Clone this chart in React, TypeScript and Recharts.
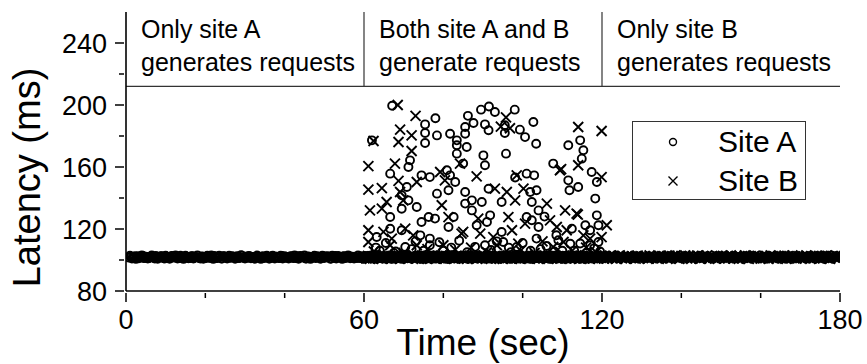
import React from "react";
import {
    ScatterChart, Scatter, XAxis, YAxis, ReferenceLine, ReferenceArea, Legend, Label,
} from "recharts";

const FONT = "Arial, 'Liberation Sans', Helvetica, sans-serif";

// axes
const timeTicks = [0, 20, 40, 60, 80, 100, 120, 140, 160, 180];
const timeLabels = [0, 60, 120, 180];
const latencyTicks = [80, 100, 120, 140, 160, 180, 200, 220, 240];
const latencyLabels = [80, 120, 160, 200, 240];

// phases shown in the top strip
const phaseStart = [0, 60, 120];
const phaseEnd = [60, 120, 180];
const phaseText = [
    ["Only site A", "generates requests"],
    ["Both site A and B", "generate requests"],
    ["Only site B", "generates requests"],
];
const phaseFloor = 212;

const seriesNames = ["Site A", "Site B"];

// steady latency (ms), one sample every 0.5 s
const steadyA = [
    101.6, 102.1, 101.3, 102.4, 101.8, 101.1, 102.0, 102.6, 101.5, 101.9, 101.2, 102.3, 101.7, 100.9, 102.2, 101.4, 102.5, 101.8, 101.0, 102.1,
    101.9, 101.3, 102.4, 101.6, 102.0, 101.2, 102.7, 101.5, 101.8, 102.2, 101.1, 101.7, 102.4, 101.4, 102.0, 101.6, 100.9, 102.3, 101.8, 101.3,
    102.2, 101.5, 101.9, 102.6, 101.3, 101.8, 102.1, 101.0, 102.4, 101.7, 102.0, 101.4, 102.5, 101.9, 101.2, 102.2, 101.6, 102.8, 101.3, 101.9,
    101.4, 102.3, 101.7, 101.1, 102.0, 102.5, 101.6, 101.9, 101.2, 102.2, 101.8, 101.0, 102.4, 101.5, 102.1, 101.7, 101.3, 102.6, 101.9, 101.4,
    102.0, 101.6, 102.3, 101.2, 101.8, 102.5, 101.4, 102.1, 101.7, 100.9, 102.2, 101.5, 102.0, 101.8, 101.3, 102.4, 101.6, 101.1, 102.3, 101.9,
    101.7, 102.2, 101.0, 101.9, 102.6, 101.4, 102.0, 101.6, 102.3, 101.2, 101.8, 102.5, 101.5, 101.9, 102.1, 101.3, 101.7, 102.4, 101.0, 102.2,
    101.8, 101.3, 102.1, 102.7, 101.5, 101.9, 101.2, 102.3, 101.6, 102.0, 101.4, 102.5, 101.8, 101.1, 102.2, 101.7, 102.4, 101.3, 101.9, 102.0,
    101.5, 102.4, 101.8, 101.2, 102.1, 101.6, 102.6, 101.0, 101.9, 102.3, 101.4, 101.8, 102.2, 101.5, 102.7, 101.3, 101.9, 102.0, 101.6, 102.4,
    102.1, 101.4, 101.8, 102.5, 101.2, 102.0, 101.7, 102.3, 101.0, 101.9, 102.6, 101.5, 102.1, 101.3, 101.8, 102.4, 101.6, 102.0, 101.2, 101.9,
    101.6, 102.2, 101.3, 101.9, 102.5, 101.7, 101.1, 102.3, 101.8, 102.0, 101.4, 102.6, 101.6, 101.2, 102.1, 101.9, 101.5, 102.4, 101.7, 101.3,
    102.3, 101.7, 101.0, 102.1, 101.6, 102.4, 101.9, 101.3, 102.2, 101.5, 102.7, 101.8, 101.2, 102.0, 101.6, 102.3, 101.4, 101.9, 102.5, 101.1,
    101.8, 102.0, 101.5, 102.4, 101.2, 101.9, 102.2, 101.6, 102.6, 101.3, 101.8, 102.1, 101.0, 102.3, 101.7, 101.4, 102.5, 101.9, 101.6, 102.0,
];
// requests falling between the samples above
const steadyAMid = [
    102.8, 101.0, 101.9, 100.7, 102.5, 101.6, 103.0, 101.2, 102.2, 100.9, 101.8, 102.9, 101.4, 102.6, 100.8, 101.9, 102.4, 101.1, 102.7, 101.5,
    100.8, 102.6, 101.7, 102.9, 101.0, 102.3, 101.4, 100.7, 102.8, 101.9, 101.2, 102.5, 100.9, 101.7, 103.0, 101.3, 102.1, 100.8, 101.8, 102.7,
    101.5, 102.9, 100.7, 102.2, 101.3, 102.7, 101.0, 102.4, 101.8, 100.9, 102.8, 101.6, 102.1, 100.8, 102.5, 101.2, 103.1, 101.7, 100.9, 102.3,
    102.6, 101.1, 102.0, 100.8, 102.9, 101.5, 100.7, 102.4, 101.9, 102.8, 101.0, 101.6, 102.7, 100.9, 102.2, 101.3, 102.8, 101.0, 102.4, 101.7,
    100.9, 102.4, 101.6, 103.0, 101.2, 100.8, 102.6, 101.8, 102.9, 101.0, 102.3, 100.7, 101.9, 102.8, 101.4, 102.0, 100.8, 102.7, 101.3, 102.5,
    102.3, 100.8, 102.8, 101.5, 101.0, 102.6, 101.9, 100.7, 102.4, 101.7, 103.0, 101.1, 102.2, 100.9, 101.6, 102.9, 101.2, 102.0, 100.8, 102.6,
    101.2, 102.7, 101.0, 102.2, 100.8, 102.9, 101.6, 102.4, 100.9, 101.8, 102.6, 101.3, 100.7, 102.8, 101.9, 101.1, 102.5, 100.8, 102.9, 101.4,
    102.9, 101.3, 100.8, 102.5, 101.7, 102.2, 100.9, 102.8, 101.4, 100.7, 102.4, 101.9, 102.7, 101.0, 101.6, 102.9, 100.8, 102.3, 101.2, 102.6,
    100.7, 102.2, 102.9, 101.1, 102.6, 100.9, 101.8, 102.7, 101.3, 102.4, 100.8, 101.6, 102.9, 101.0, 102.3, 100.9, 102.7, 101.5, 102.1, 100.8,
    102.5, 101.0, 101.8, 102.8, 100.9, 102.3, 101.4, 100.8, 102.6, 101.9, 101.1, 102.9, 100.7, 102.2, 101.6, 102.8, 101.0, 100.9, 102.5, 101.7,
    101.0, 102.8, 101.5, 100.8, 102.4, 101.2, 102.9, 101.7, 100.9, 102.6, 101.3, 102.0, 100.7, 102.7, 101.8, 101.0, 102.9, 101.4, 100.8, 102.3,
    102.7, 101.4, 100.8, 102.2, 101.9, 102.9, 101.1, 100.7, 102.5, 101.6, 102.8, 101.0, 102.3, 100.9, 101.7, 102.6, 101.2, 102.9, 100.8, 101.9,
];
const steadyB = [
    101.9, 101.4, 102.2, 101.7, 101.1, 102.5, 101.8, 102.0, 101.3, 102.3, 101.6, 101.9, 102.6, 101.2, 101.8, 102.1, 101.5, 102.4, 101.0, 101.9,
    102.2, 101.6, 101.3, 102.0, 102.5, 101.7, 101.2, 102.3, 101.9, 101.5, 102.1, 101.0, 102.4, 101.8, 101.4, 102.6, 101.7, 102.0, 101.3, 102.2,
    101.5, 102.1, 101.8, 101.2, 102.4, 101.9, 102.7, 101.4, 101.8, 102.0, 101.1, 102.3, 101.6, 101.9, 102.5, 101.3, 102.0, 101.7, 102.2, 101.5,
    102.0, 101.3, 102.4, 101.8, 101.6, 102.2, 101.0, 101.9, 102.6, 101.4, 102.1, 101.7, 101.2, 102.3, 101.8, 102.5, 101.5, 101.9, 101.3, 102.1,
    101.7, 102.3, 101.1, 101.9, 102.2, 101.6, 102.5, 101.4, 102.0, 101.8, 101.3, 102.4, 101.9, 101.5, 102.6, 101.2, 101.8, 102.1, 101.6, 102.3,
    101.4, 101.9, 102.5, 101.7, 101.2, 102.0, 101.8, 102.4, 101.0, 102.2, 101.6, 101.9, 102.3, 101.5, 102.7, 101.3, 101.8, 102.0, 101.7, 101.4,
    102.2, 101.8, 101.3, 102.1, 101.9, 102.6, 101.5, 101.1, 102.3, 101.7, 102.0, 101.4, 102.5, 101.8, 101.2, 102.2, 101.6, 102.4, 101.9, 101.5,
    101.8, 102.4, 101.6, 101.0, 102.2, 101.7, 102.0, 101.3, 102.5, 101.9, 101.4, 102.1, 101.8, 102.6, 101.2, 101.9, 102.3, 101.5, 102.0, 101.7,
    102.1, 101.5, 101.9, 102.4, 101.3, 101.8, 102.2, 101.6, 102.7, 101.1, 101.9, 102.3, 101.7, 101.4, 102.0, 102.5, 101.6, 101.2, 102.1, 101.8,
    101.6, 102.2, 101.8, 101.3, 102.5, 101.9, 101.0, 102.1, 101.7, 102.3, 101.5, 102.0, 101.2, 102.4, 101.8, 101.6, 102.2, 101.4, 102.6, 101.9,
    102.0, 101.4, 102.3, 101.7, 101.9, 102.5, 101.2, 101.8, 102.1, 101.6, 102.4, 101.3, 101.9, 102.2, 101.0, 102.0, 101.7, 102.3, 101.5, 101.8,
    101.7, 102.1, 101.5, 102.4, 101.9, 101.3, 102.2, 101.8, 101.6, 102.6, 101.4, 101.9, 102.0, 101.2, 102.3, 101.7, 102.5, 101.6, 101.9, 102.1,
];
const steadyBMid = [
    101.1, 102.7, 100.8, 102.3, 101.6, 102.9, 101.0, 102.1, 100.7, 102.6, 101.4, 102.8, 101.9, 100.9, 102.5, 101.2, 102.0, 100.8, 102.9, 101.5,
    102.6, 100.9, 102.2, 101.4, 102.9, 101.0, 101.8, 102.7, 100.8, 102.4, 101.2, 100.7, 102.8, 101.6, 102.1, 100.9, 102.6, 101.3, 102.9, 101.0,
    100.8, 102.5, 101.7, 102.9, 101.1, 100.9, 102.4, 101.5, 102.8, 101.0, 102.2, 100.7, 101.9, 102.7, 101.3, 102.9, 100.8, 102.1, 101.6, 102.6,
    102.4, 101.2, 102.8, 100.8, 101.9, 102.6, 101.0, 102.9, 101.4, 100.7, 102.3, 101.8, 102.7, 100.9, 102.0, 101.5, 102.9, 101.1, 100.8, 102.5,
    101.3, 102.9, 100.9, 102.4, 101.7, 101.0, 102.7, 100.8, 102.2, 101.9, 102.8, 101.2, 100.7, 102.5, 101.6, 102.9, 101.0, 102.3, 100.9, 101.8,
    102.8, 101.0, 102.1, 100.7, 102.6, 101.4, 102.9, 101.8, 100.9, 102.4, 101.1, 102.7, 101.5, 100.8, 102.2, 101.9, 102.8, 100.9, 101.6, 102.5,
    100.9, 102.3, 101.5, 102.8, 101.0, 102.6, 100.8, 101.9, 102.9, 101.3, 102.1, 100.7, 102.7, 101.6, 102.4, 101.0, 100.9, 102.8, 101.4, 102.2,
    102.2, 101.6, 100.8, 102.9, 101.2, 102.5, 101.9, 100.9, 102.7, 101.0, 102.4, 101.7, 100.8, 102.8, 101.3, 102.0, 102.9, 101.1, 100.7, 102.6,
    101.7, 102.9, 101.0, 102.3, 100.8, 102.6, 101.4, 102.8, 101.1, 100.9, 102.5, 101.8, 102.9, 100.8, 102.1, 101.5, 100.9, 102.7, 101.2, 102.4,
    102.7, 100.9, 102.4, 101.3, 102.9, 101.0, 101.7, 102.6, 100.8, 102.2, 101.5, 102.9, 101.0, 100.7, 102.5, 101.9, 102.8, 101.2, 102.0, 100.9,
    101.0, 102.6, 101.8, 100.8, 102.9, 101.4, 102.2, 100.9, 102.7, 101.6, 101.0, 102.8, 100.8, 102.4, 101.7, 102.9, 101.1, 100.9, 102.5, 101.3,
    102.5, 101.2, 102.9, 101.6, 100.8, 102.3, 101.0, 102.7, 101.9, 100.9, 102.6, 101.4, 102.8, 101.1, 100.7, 102.4, 101.8, 102.9, 101.0, 102.2,
];
const steadyAStart = 0.75;
const steadyBStart = 60.25;
const sampleStep = 0.5;
const midOffset = 0.25;

// scattered high-latency requests while both sites are active: [time s, latency ms]
const burstA: [number, number][] = [
    [62.0, 177.2], [63.0, 108.0], [63.2, 114.8], [64.0, 106.0], [65.5, 111.0], [66.6, 155.7], [66.6, 120.2], [66.6, 127.7],
    [67.1, 199.5], [67.5, 104.5], [68.0, 105.5], [69.5, 141.7], [69.5, 133.1], [69.5, 119.2], [70.4, 108.4], [70.8, 147.1],
    [71.2, 160.0], [71.2, 138.5], [71.6, 164.3], [72.0, 107.0], [73.0, 112.0], [73.3, 134.2], [74.2, 115.9], [74.5, 154.6],
    [74.5, 124.5], [75.0, 106.0], [75.4, 187.5], [75.4, 181.9], [75.4, 175.5], [76.3, 127.7], [76.6, 153.5], [76.6, 113.8],
    [76.6, 109.5], [77.9, 126.7], [78.4, 180.4], [78.4, 142.8], [78.0, 191.5], [79.0, 111.5], [80.0, 106.0], [80.9, 157.9],
    [81.3, 145.0], [81.3, 121.3], [81.7, 181.5], [81.7, 154.6], [82.0, 108.0], [82.6, 127.7], [83.0, 150.3], [83.4, 177.2],
    [83.4, 174.0], [83.4, 168.6], [84.0, 112.5], [85.0, 162.2], [85.5, 185.8], [85.5, 181.5], [85.5, 143.9], [85.5, 136.4],
    [85.9, 172.9], [86.0, 105.0], [86.2, 193.0], [87.2, 138.5], [87.2, 132.0], [87.6, 188.4], [88.0, 108.5], [88.4, 122.4],
    [89.5, 197.0], [89.7, 137.4], [90.1, 167.5], [90.5, 187.5], [90.5, 161.1], [90.5, 109.5], [91.0, 124.5], [91.4, 183.7],
    [91.4, 146.0], [91.5, 199.0], [91.8, 128.8], [92.0, 106.5], [93.0, 195.5], [93.5, 112.0], [94.7, 137.4], [94.7, 118.1],
    [95.1, 111.6], [95.5, 186.9], [95.5, 181.9], [95.8, 168.6], [96.5, 108.0], [97.0, 105.0], [98.0, 197.0], [98.1, 153.2],
    [98.5, 108.4], [99.3, 184.1], [100.0, 111.0], [100.6, 179.3], [101.0, 155.7], [101.0, 127.7], [101.9, 143.9], [102.0, 106.0],
    [102.3, 137.4], [102.3, 125.6], [102.7, 189.0], [102.9, 154.6], [103.4, 175.0], [103.5, 145.0], [103.5, 113.8], [104.0, 132.0],
    [104.0, 121.3], [104.5, 107.0], [105.5, 128.0], [106.0, 109.0], [107.7, 162.2], [108.0, 105.5], [108.5, 116.0], [109.0, 112.7],
    [110.0, 106.0], [111.5, 151.4], [111.5, 174.0], [111.8, 145.0], [112.0, 110.5], [112.4, 120.2], [113.0, 106.0], [114.0, 147.1],
    [114.5, 177.2], [114.5, 110.6], [114.9, 165.4], [115.3, 170.8], [115.8, 122.4], [116.0, 104.5], [117.0, 119.2], [117.0, 109.5],
    [117.4, 156.8], [118.0, 107.5], [118.3, 139.6], [118.7, 150.3], [118.7, 128.8], [119.1, 122.4], [119.1, 111.6], [119.5, 105.5],
];
const burstB: [number, number][] = [
    [61.1, 160.6], [61.1, 145.4], [61.1, 119.2], [61.1, 111.6], [61.5, 132.0], [62.4, 176.8], [62.5, 105.5], [64.5, 146.4],
    [64.5, 133.1], [64.9, 118.1], [65.7, 137.4], [66.6, 109.5], [67.0, 113.8], [67.8, 162.2], [68.5, 200.0], [68.7, 176.1],
    [68.7, 151.0], [69.1, 184.1], [69.1, 143.9], [69.9, 138.5], [70.0, 104.5], [70.4, 120.2], [72.0, 180.4], [72.0, 170.3],
    [72.4, 115.9], [73.0, 193.0], [73.3, 150.3], [73.3, 109.5], [76.0, 107.0], [79.2, 156.8], [79.6, 135.3], [80.0, 109.5],
    [80.4, 151.4], [81.3, 127.7], [83.0, 106.5], [84.2, 162.2], [84.6, 117.0], [85.0, 118.1], [87.0, 108.0], [88.4, 154.0],
    [88.8, 126.7], [89.3, 117.0], [91.0, 105.0], [92.6, 114.8], [93.0, 146.0], [93.5, 109.5], [94.5, 186.0], [95.8, 192.0],
    [96.0, 143.9], [96.4, 127.7], [96.8, 185.0], [97.3, 119.2], [98.1, 138.5], [98.5, 154.6], [98.9, 110.6], [99.5, 106.0],
    [100.2, 146.0], [100.6, 123.5], [103.0, 104.5], [105.0, 112.0], [106.1, 136.4], [106.9, 125.6], [107.7, 108.4], [108.6, 121.3],
    [109.4, 157.9], [109.7, 158.6], [110.3, 111.6], [110.7, 132.0], [111.1, 119.2], [112.5, 106.0], [113.6, 129.9], [113.9, 129.3],
    [114.0, 185.8], [114.0, 161.1], [115.3, 115.9], [116.0, 108.0], [117.0, 113.8], [118.5, 105.0], [119.9, 183.2], [119.9, 153.5],
    [119.9, 114.8], [121.2, 122.4],
];

const siteA = [
    ...steadyA.map((lat, i) => ({ t: steadyAStart + i * sampleStep, lat })),
    ...steadyAMid.map((lat, i) => ({ t: steadyAStart + midOffset + i * sampleStep, lat })),
    ...burstA.map(([t, lat]) => ({ t, lat })),
];
const siteB = [
    ...steadyB.map((lat, i) => ({ t: steadyBStart + i * sampleStep, lat })),
    ...steadyBMid.map((lat, i) => ({ t: steadyBStart + midOffset + i * sampleStep, lat })),
    ...burstB.map(([t, lat]) => ({ t, lat })),
];

const INK = "#000";

const Ring = (p: any) => (
    <circle cx={p.cx} cy={p.cy} r={4} fill="none" stroke={INK} strokeWidth={1.9} />
);
const Cross = (p: any) => {
    const s = 5;
    return (
        <path
            d={`M${p.cx - s},${p.cy - s}L${p.cx + s},${p.cy + s}M${p.cx - s},${p.cy + s}L${p.cx + s},${p.cy - s}`}
            stroke={INK} strokeWidth={1.9} fill="none"
        />
    );
};

const BottomTick = ({ x, y, payload }: any) => {
    const major = timeLabels.includes(payload.value);
    return (
        <g>
            <line x1={x} x2={x} y1={y} y2={y + (major ? 9 : 5)} stroke={INK} strokeWidth={1.5} />
            {major && (
                <text x={x} y={y + 36} textAnchor="middle" fontSize={27} fontFamily={FONT} fill={INK}>
                    {payload.value}
                </text>
            )}
        </g>
    );
};
const TopTick = ({ x, y, payload }: any) => {
    const major = timeLabels.includes(payload.value);
    return <line x1={x} x2={x} y1={y} y2={y + (major ? 9 : 5)} stroke={INK} strokeWidth={1.5} />;
};
const LeftTick = ({ x, y, payload }: any) => {
    const major = latencyLabels.includes(payload.value);
    return (
        <g>
            <line x1={x - (major ? 9 : 5)} x2={x} y1={y} y2={y} stroke={INK} strokeWidth={1.5} />
            {major && (
                <text x={x - 17} y={y} dy="0.36em" textAnchor="end" fontSize={27} fontFamily={FONT} fill={INK}>
                    {payload.value}
                </text>
            )}
        </g>
    );
};
const RightTick = ({ x, y, payload }: any) => {
    const major = latencyLabels.includes(payload.value);
    return <line x1={x - (major ? 9 : 5)} x2={x} y1={y} y2={y} stroke={INK} strokeWidth={1.5} />;
};

const XTitle = ({ viewBox }: any) => (
    <text x={viewBox.x + viewBox.width / 2} y={viewBox.y + 64} textAnchor="middle" fontSize={37} fontFamily={FONT} fill={INK}>
        Time (sec)
    </text>
);
const YTitle = ({ viewBox }: any) => {
    const cx = 40;
    const cy = viewBox.y + viewBox.height / 2 + 26;
    return (
        <text x={cx} y={cy} transform={`rotate(-90, ${cx}, ${cy})`} textAnchor="middle" fontSize={38} fontFamily={FONT} fill={INK}>
            Latency (ms)
        </text>
    );
};

const phaseLabel = (lines: string[]) => ({ viewBox }: any) => (
    <text fontSize={25} fontFamily={FONT} fill={INK}>
        <tspan x={viewBox.x + 15} y={viewBox.y + 26}>{lines[0]}</tspan>
        <tspan x={viewBox.x + 15} y={viewBox.y + 59}>{lines[1]}</tspan>
    </text>
);

const LegendBox = () => (
    <svg width={174} height={79} style={{ display: "block" }}>
        <rect x={0.5} y={0.5} width={173} height={78} fill="#fff" stroke="#333" strokeWidth={1} />
        <circle cx={41} cy={21} r={3.5} fill="none" stroke={INK} strokeWidth={1.4} />
        <path d="M36.5,55.5L45.5,64.5M36.5,64.5L45.5,55.5" stroke={INK} strokeWidth={1.4} />
        <text x={86} y={31} fontSize={30} fontFamily={FONT} fill={INK}>{seriesNames[0]}</text>
        <text x={86} y={70} fontSize={30} fontFamily={FONT} fill={INK}>{seriesNames[1]}</text>
    </svg>
);

const axisLine = { stroke: INK, strokeWidth: 1.6 };

export default function App() {
    return (
        <div style={{ position: "absolute", left: 0, top: 0, width: 867, height: 364, background: "#fff" }}>
            <ScatterChart width={867} height={364} margin={{ top: 12, right: 27, bottom: 0, left: 0 }}>
                <XAxis
                    type="number" dataKey="t" domain={[0, 180]} ticks={timeTicks} interval={0} allowDataOverflow
                    height={73} tickSize={0} tickLine={false} tick={BottomTick} axisLine={axisLine}
                >
                    <Label content={XTitle} />
                </XAxis>
                <XAxis
                    xAxisId="top" orientation="top" type="number" domain={[0, 180]} ticks={timeTicks} interval={0}
                    allowDataOverflow height={0} tickSize={0} tickLine={false} tick={TopTick} axisLine={axisLine}
                />
                <YAxis
                    type="number" dataKey="lat" domain={[80, 260]} ticks={latencyTicks} interval={0} allowDataOverflow
                    width={126} tickSize={0} tickLine={false} tick={LeftTick} axisLine={axisLine}
                >
                    <Label content={YTitle} />
                </YAxis>
                <YAxis
                    yAxisId="right" orientation="right" type="number" domain={[80, 260]} ticks={latencyTicks} interval={0}
                    allowDataOverflow width={0} tickSize={0} tickLine={false} tick={RightTick} axisLine={axisLine}
                />

                {phaseStart.map((s, i) => (
                    <ReferenceArea
                        key={s} x1={s} x2={phaseEnd[i]} y1={phaseFloor} y2={260}
                        fill="none" stroke="none" label={phaseLabel(phaseText[i])}
                    />
                ))}
                <ReferenceLine y={phaseFloor} stroke="#333" strokeWidth={1.2} />
                {phaseStart.slice(1).map((s) => (
                    <ReferenceLine key={s} segment={[{ x: s, y: phaseFloor }, { x: s, y: 260 }]} stroke="#333" strokeWidth={1.2} />
                ))}

                <Scatter name={seriesNames[0]} data={siteA} shape={Ring} isAnimationActive={false} />
                <Scatter name={seriesNames[1]} data={siteB} shape={Cross} isAnimationActive={false} />

                <Legend
                    layout="horizontal" verticalAlign="middle" align="center" content={LegendBox}
                    wrapperStyle={{ position: "absolute", left: 632, top: 121, width: 174, height: 79 }}
                />
            </ScatterChart>
        </div>
    );
}
